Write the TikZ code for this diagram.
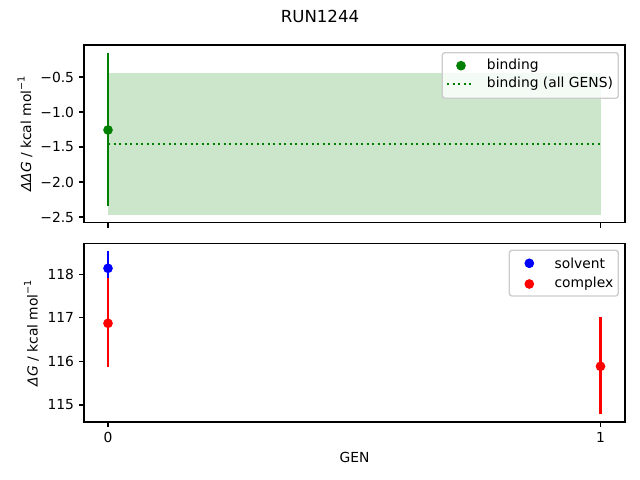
\documentclass[tikz,border=0pt]{standalone}
\usepackage{fontspec}
\setmainfont{DejaVu Sans}
\definecolor{mgreen}{HTML}{008000}
\definecolor{band}{HTML}{CCE6CC}
\definecolor{lframe}{HTML}{CCCCCC}
\tikzset{
  axframe/.style={draw=black, line width=0.8pt},
  tick/.style={draw=black, line width=0.8pt},
  ebar/.style={line width=1.5pt},
  ticklab/.style={font=\fontsize{10}{12}\selectfont, inner sep=0pt},
  leglab/.style={font=\fontsize{10}{12}\selectfont, inner sep=0pt, anchor=west},
  legbox/.style={draw=lframe, line width=1pt, fill=white, fill opacity=0.8, rounded corners=2pt},
  dotline/.style={line width=1.5pt, dash pattern=on 1.5pt off 2.475pt}
}
\newcommand{\supm}{\raisebox{0.85ex}{\fontsize{7}{7}\selectfont −1}}
\begin{document}
\begin{tikzpicture}[x=0.01in, y=-0.01in]
\useasboundingbox (0,0) rectangle (640,480);
% title
\node[font=\fontsize{12}{14}\selectfont, inner sep=0pt] (title) at (320,16) {RUN1244};

% ---------- top axes ----------
\fill[band] (108,73) rectangle (600.5,215.3);
\draw[mgreen, dotline] (108,144) -- (600.5,144);
\draw[mgreen, ebar] (108,53.3) -- (108,205.7);
\fill[mgreen] (108,130) circle (3.5pt);
\draw[axframe] (84,45) rectangle (625,222.7);
% y ticks
\foreach \yy/\lab in {77/−0.5, 112/−1.0, 147/−1.5, 182/−2.0, 217/−2.5}{
  \draw[tick] (84,\yy) -- ++(-4.86,0);
  \node[ticklab, anchor=east] at (74.3,\yy) {\lab};
}
\foreach \xx in {108,600.5}{ \draw[tick] (\xx,222.7) -- ++(0,4.86); }
\node[rotate=90, ticklab] (ylab1) at (25,134) {{\itshape ΔΔG} / kcal mol\supm};
% legend top
\draw[legbox] (442.3,52.7) rectangle (618.3,98.3);
\fill[mgreen] (461,65.7) circle (3.5pt);
\draw[mgreen, dotline] (447,83.7) -- (471,83.7);
\node[leglab] (lb1) at (486.7,65.7) {binding};
\node[leglab] (lb2) at (486.7,83.7) {binding (all GENS)};

% ---------- bottom axes ----------
\draw[blue, ebar] (108,251) -- (108,285.2);
\fill[blue] (108,268.3) circle (3.5pt);
\draw[red, ebar] (108,278) -- (108,367.3);
\fill[red] (108,323.3) circle (3.5pt);
\draw[red, ebar] (600.5,317) -- (600.5,413.7);
\fill[red] (600.5,366.3) circle (3.5pt);
\draw[axframe] (84,243.3) rectangle (625,422);
\foreach \yy/\lab in {274.3/118, 317.8/117, 361.4/116, 405/115}{
  \draw[tick] (84,\yy) -- ++(-4.86,0);
  \node[ticklab, anchor=east] at (74.3,\yy) {\lab};
}
\foreach \xx/\lab in {108/0, 600.5/1}{
  \draw[tick] (\xx,422) -- ++(0,4.86);
  \node[ticklab, anchor=north] at (\xx,432) {\lab};
}
\node[rotate=90, ticklab] (ylab2) at (31.5,333) {{\itshape ΔG} / kcal mol\supm};
\node[ticklab] (xlab) at (354.5,457) {GEN};
% legend bottom
\draw[legbox] (509.3,250.3) rectangle (618.3,296);
\fill[blue] (529.3,263.3) circle (3.5pt);
\fill[red] (529.3,284) circle (3.5pt);
\node[leglab] (ls) at (554.3,263.3) {solvent};
\node[leglab] (lc) at (554.3,284) {complex};
\end{tikzpicture}
\end{document}
